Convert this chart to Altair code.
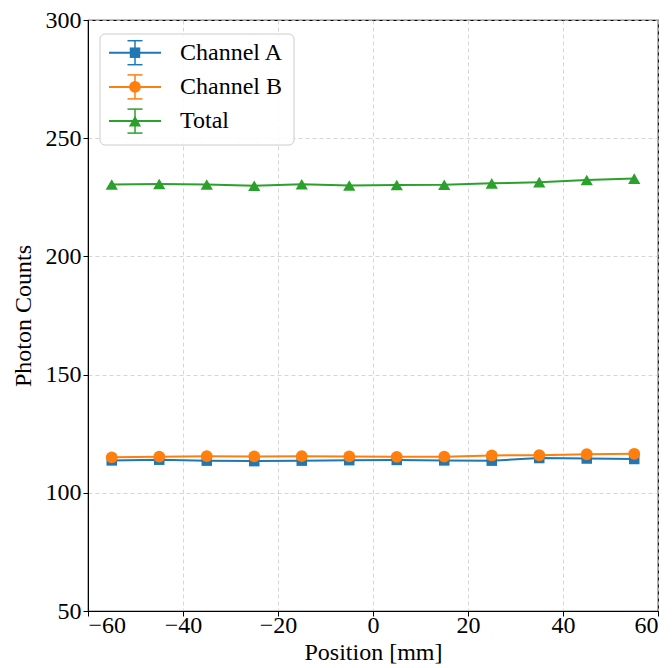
import altair as alt
import pandas as pd

# ---- data ----
series_names = ["Channel A", "Channel B", "Total"]
series_colors = ["#1f77b4", "#ff7f0e", "#2ca02c"]
series_shapes = ["square", "circle", "triangle-up"]
series_sizes = [110, 140, 150]

positions = [-55, -45, -35, -25, -15, -5, 5, 15, 25, 35, 45, 55]
channel_a = [113.7, 114.0, 113.6, 113.4, 113.6, 113.8, 113.9, 113.7, 113.6, 114.7, 114.5, 114.3]
channel_b = [115.0, 115.3, 115.5, 115.4, 115.5, 115.4, 115.2, 115.3, 115.8, 115.9, 116.3, 116.5]
total = [230.4, 230.6, 230.4, 229.9, 230.5, 230.0, 230.2, 230.3, 230.9, 231.4, 232.3, 232.9]
err_a = [0.5] * 12
err_b = [0.5] * 12
err_total = [0.7] * 12

x_ticks = [-60, -40, -20, 0, 20, 40, 60]
y_ticks = [50, 100, 150, 200, 250, 300]

FONT = "Times New Roman"
FS = 24

values = [channel_a, channel_b, total]
errors = [err_a, err_b, err_total]

xscale = alt.Scale(domain=[-60, 60], nice=False, zero=False)
yscale = alt.Scale(domain=[50, 300], nice=False, zero=False)
xaxis = alt.Axis(values=x_ticks, title="Position [mm]", grid=True, labelPadding=-3, titlePadding=3)
yaxis = alt.Axis(values=y_ticks, title="Photon Counts", grid=True, labelPadding=2, titlePadding=10)

layers = []
for name, col, shp, sz, vals, errs in zip(series_names, series_colors, series_shapes, series_sizes, values, errors):
    df = pd.DataFrame({"x": positions, "y": vals, "e": errs})
    df["lo"] = df["y"] - df["e"]
    df["hi"] = df["y"] + df["e"]
    base = alt.Chart(df)
    line = base.mark_line(color=col, strokeWidth=2).encode(
        x=alt.X("x:Q", scale=xscale, axis=xaxis),
        y=alt.Y("y:Q", scale=yscale, axis=yaxis),
    )
    eb = base.mark_rule(color=col, strokeWidth=1.5).encode(
        x="x:Q", y="lo:Q", y2="hi:Q"
    )
    pts = base.mark_point(shape=shp, size=sz, filled=True, opacity=1, color=col).encode(
        x="x:Q", y="y:Q"
    )
    layers += [line, eb, pts]

# ---- legend (drawn manually to mimic matplotlib errorbar legend) ----
row0, rowstep = 32.7, 34.2
leg = pd.DataFrame({
    "name": series_names,
    "col": series_colors,
    "shp": series_shapes,
    "sz": series_sizes,
})
leg["yp"] = [row0 + i * rowstep for i in range(len(series_names))]
leg["yt"] = leg["yp"] - 12
leg["yb"] = leg["yp"] + 12

box = alt.Chart(pd.DataFrame({"a": [0]})).mark_rect(
    fill="white", fillOpacity=0.85, stroke="#cccccc", strokeWidth=1, cornerRadius=5
).encode(x=alt.value(12), x2=alt.value(206), y=alt.value(14), y2=alt.value(125))

lb = alt.Chart(leg)
leg_line = lb.mark_rule(strokeWidth=2).encode(
    x=alt.value(21), x2=alt.value(73),
    y=alt.Y("yp:Q", scale=None),
    color=alt.Color("col:N", scale=None),
)
leg_vbar = lb.mark_rule(strokeWidth=1.5).encode(
    x=alt.value(47),
    y=alt.Y("yt:Q", scale=None), y2="yb:Q",
    color=alt.Color("col:N", scale=None),
)
leg_cap_t = lb.mark_rule(strokeWidth=1.5).encode(
    x=alt.value(39.5), x2=alt.value(54.5),
    y=alt.Y("yt:Q", scale=None),
    color=alt.Color("col:N", scale=None),
)
leg_cap_b = lb.mark_rule(strokeWidth=1.5).encode(
    x=alt.value(39.5), x2=alt.value(54.5),
    y=alt.Y("yb:Q", scale=None),
    color=alt.Color("col:N", scale=None),
)
leg_pt = lb.mark_point(filled=True, opacity=1).encode(
    x=alt.value(47),
    y=alt.Y("yp:Q", scale=None),
    color=alt.Color("col:N", scale=None),
    shape=alt.Shape("shp:N", scale=None),
    size=alt.Size("sz:Q", scale=None),
)
leg_txt = lb.mark_text(align="left", baseline="middle", font=FONT, fontSize=FS, color="black").encode(
    x=alt.value(92),
    y=alt.Y("yp:Q", scale=None),
    text="name:N",
)

chart = alt.layer(
    *layers, box, leg_line, leg_vbar, leg_cap_t, leg_cap_b, leg_pt, leg_txt
).resolve_scale(
    color="independent", shape="independent", size="independent"
).properties(
    width=570, height=591, padding={"left": 3, "top": 0, "right": 0, "bottom": 0}
).configure_view(
    stroke="black", strokeWidth=1.2
).configure_axis(
    labelFont=FONT, titleFont=FONT, labelFontSize=FS, titleFontSize=FS,
    titleFontWeight="normal", labelColor="black", titleColor="black",
    domainColor="black", tickColor="black", tickSize=5,
    gridColor="#cccccc", gridDash=[4, 3], gridWidth=0.8,
)

chart.save("out.html", embed_options={"renderer": "svg", "actions": False})
